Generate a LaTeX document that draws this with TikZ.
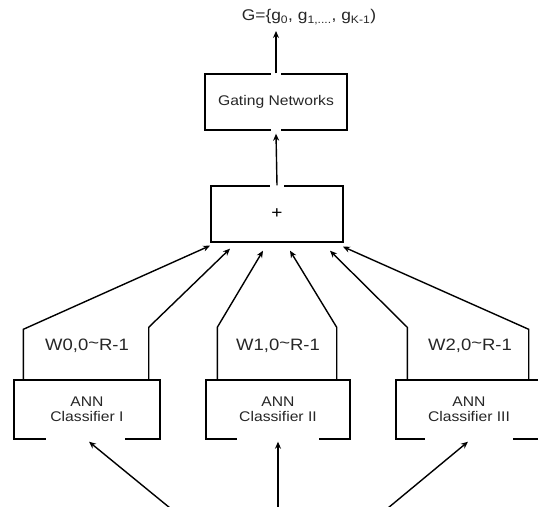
\documentclass[tikz,border=0pt]{standalone}
\usepackage{fontspec}
\setmainfont{Liberation Sans}[FakeStretch=1.12]
\usetikzlibrary{arrows.meta,calc}
\begin{document}
\begin{tikzpicture}[x=1pt,y=-1pt,
  box/.style={draw,line width=1.4pt,inner sep=0pt,align=center},
  gap/.style={fill=white},
  conn/.style={line width=1.4pt,-{Stealth[length=7pt,width=6pt]}},
  ttext/.style={font=\fontsize{14}{15}\selectfont,text=black!85},
  wlab/.style={font=\fontsize{16.5}{18}\selectfont,text=black!85}]
\useasboundingbox (0,0) rectangle (538,506);
% boxes
\node[box,minimum width=142pt,minimum height=56pt,ttext] (gate) at (276,102) {Gating Networks};
\node[box,minimum width=132pt,minimum height=56pt,font=\fontsize{17}{18}\selectfont] (plus) at (277,214) {+};
\node[box,minimum width=146pt,minimum height=59pt,ttext] (c1) at (87,409.5) {ANN\\Classifier I};
\node[box,minimum width=144pt,minimum height=59pt,ttext] (c2) at (278,409.5) {ANN\\Classifier II};
\node[box,minimum width=146pt,minimum height=59pt,ttext] (c3) at (469,409.5) {ANN\\Classifier III};
\node[font=\fontsize{15.5}{17}\selectfont,text=black!85] (G) at (309,17) {G=\{g\textsubscript{0}, g\textsubscript{1,....}, g\textsubscript{K-1})};
% gaps in outlines
\fill[gap] ($(gate.north)+(-5,-2)$) rectangle ($(gate.north)+(5,2)$);
\fill[gap] ($(gate.south)+(-5,-2)$) rectangle ($(gate.south)+(5,2)$);
\fill[gap] ($(plus.north)+(-7,-2)$) rectangle ($(plus.north)+(7,2)$);
\fill[gap] ($(c1.south)+(-41,-2)$) rectangle ($(c1.south)+(38,2)$);
\fill[gap] ($(c2.south)+(-41,-2)$) rectangle ($(c2.south)+(41,2)$);
\fill[gap] ($(c3.south)+(-44,-2)$) rectangle ($(c3.south)+(44,2)$);
% labels
\node[wlab] (w0) at ($(c1.north)+(0,-34)$) {W0,0\raisebox{0.2ex}{\textasciitilde}R-1};
\node[wlab] (w1) at ($(c2.north)+(0,-34)$) {W1,0\raisebox{0.2ex}{\textasciitilde}R-1};
\node[wlab] (w2) at ($(c3.north)+(1,-34)$) {W2,0\raisebox{0.2ex}{\textasciitilde}R-1};
% vertical arrows
\coordinate (gtip) at (gate.north |- 0,31);
\draw[conn] (gate.north) -- (gtip);
\draw[conn] (plus.north) -- ($(gate.south)+(0,3)$);
% classifier to plus
\draw[conn] ($(c1.north west)+(10,0)$) -- ++(0,-50) -- ($(plus.south)+(-67,3)$);
\draw[conn] ($(c1.north east)+(-12,0)$) -- ++(0,-52) -- ($(plus.south)+(-47,6)$);
\draw[conn] ($(c2.north west)+(12,0)$) -- ++(0,-52) -- ($(plus.south)+(-14,8)$);
\draw[conn] ($(c2.north east)+(-14,0)$) -- ++(0,-52) -- ($(plus.south)+(13,8)$);
\draw[conn] ($(c3.north west)+(12,0)$) -- ++(0,-52) -- ($(plus.south)+(53,8)$);
\draw[conn] ($(c3.north east)+(-14,0)$) -- ++(0,-50) -- ($(plus.south)+(66,4)$);
% inputs
\coordinate (i1) at (170,508);
\coordinate (i2) at (278,508);
\coordinate (i3) at (388,508);
\draw[conn] (i1) -- ($(c1.south)+(2,2)$);
\draw[conn] (i2) -- ($(c2.south)+(0,2)$);
\draw[conn] (i3) -- ($(c3.south)+(-1,2)$);
\end{tikzpicture}
\end{document}
